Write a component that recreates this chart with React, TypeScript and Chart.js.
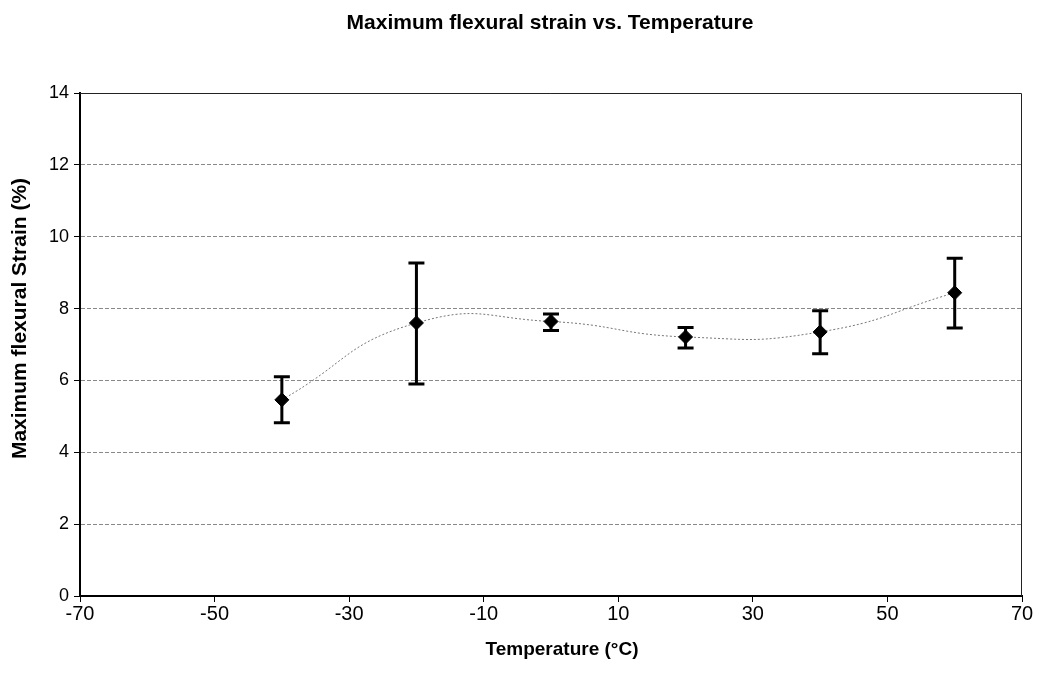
import React, { useEffect, useRef } from "react";
import { Chart, registerables } from "chart.js";

Chart.register(...registerables);

const temperatures = [-40, -20, 0, 20, 40, 60];
const strainMean = [5.46, 7.6, 7.64, 7.21, 7.35, 8.44];
const errUpper = [6.1, 9.27, 7.85, 7.47, 7.94, 9.4];
const errLower = [4.82, 5.9, 7.39, 6.9, 6.74, 7.46];
const xTickValues = [-70, -50, -30, -10, 10, 30, 50, 70];
const yTickValues = [0, 2, 4, 6, 8, 10, 12, 14];
const chartTitle = "Maximum flexural strain vs. Temperature";
const yAxisTitle = "Maximum flexural Strain (%)";
const xAxisTitle = "Temperature (°C)";

const FONT = "'Liberation Sans', Arial, sans-serif";

const errorBarPlugin = {
  id: "errorBars",
  afterDatasetsDraw(chart: any) {
    const { ctx, scales } = chart;
    const xs = scales.x;
    const ys = scales.y;
    ctx.save();
    ctx.strokeStyle = "#000";
    ctx.lineWidth = 3;
    ctx.lineCap = "butt";
    temperatures.forEach((t, i) => {
      const px = xs.getPixelForValue(t);
      const pTop = ys.getPixelForValue(errUpper[i]);
      const pBot = ys.getPixelForValue(errLower[i]);
      ctx.beginPath();
      ctx.moveTo(px, pTop);
      ctx.lineTo(px, pBot);
      ctx.moveTo(px - 8, pTop);
      ctx.lineTo(px + 8, pTop);
      ctx.moveTo(px - 8, pBot);
      ctx.lineTo(px + 8, pBot);
      ctx.stroke();
    });
    ctx.restore();
  },
};

const framePlugin = {
  id: "frame",
  beforeDatasetsDraw(chart: any) {
    const { ctx, chartArea } = chart;
    ctx.save();
    ctx.strokeStyle = "#222";
    ctx.lineWidth = 1;
    ctx.beginPath();
    ctx.moveTo(chartArea.left, chartArea.top + 0.5);
    ctx.lineTo(chartArea.right - 0.5, chartArea.top + 0.5);
    ctx.lineTo(chartArea.right - 0.5, chartArea.bottom);
    ctx.stroke();
    ctx.restore();
  },
  afterDraw(chart: any) {
    const { ctx, chartArea } = chart;
    const midX = (chartArea.left + chartArea.right) / 2;
    const midY = (chartArea.top + chartArea.bottom) / 2;
    ctx.save();
    ctx.fillStyle = "#000";
    ctx.textAlign = "center";
    ctx.textBaseline = "middle";
    ctx.font = `bold 21px ${FONT}`;
    ctx.fillText(chartTitle, midX - 1, 23);
    ctx.font = `bold 19px ${FONT}`;
    ctx.fillText(xAxisTitle, midX + 11, 650);
    ctx.font = `bold 21px ${FONT}`;
    ctx.translate(20, midY - 26);
    ctx.rotate(-Math.PI / 2);
    ctx.fillText(yAxisTitle, 0, 0);
    ctx.restore();
  },
};

export default function App() {
  const ref = useRef<HTMLCanvasElement>(null);
  useEffect(() => {
    const canvas = ref.current!;
    const chart = new Chart(canvas, {
      type: "scatter",
      data: {
        datasets: [
          {
            data: temperatures.map((t, i) => ({ x: t, y: strainMean[i] })),
            showLine: true,
            tension: 0.5,
            borderColor: "#777",
            borderWidth: 1,
            borderDash: [2, 2],
            pointStyle: "rectRot",
            pointRadius: 7,
            pointBackgroundColor: "#000",
            pointBorderColor: "#000",
            pointBorderWidth: 1,
          },
        ],
      },
      options: {
        responsive: false,
        animation: false,
        layout: { padding: { left: 0, right: 16, top: 93, bottom: 0 } },
        plugins: {
          legend: { display: false },
          tooltip: { enabled: false },
          title: { display: false },
        },
        scales: {
          x: {
            type: "linear",
            min: -70,
            max: 70,
            afterBuildTicks: (s: any) => {
              s.ticks = xTickValues.map((v) => ({ value: v }));
            },
            afterFit: (s: any) => {
              s.height = 88;
            },
            grid: {
              display: true,
              drawOnChartArea: false,
              drawTicks: true,
              tickLength: 6,
              color: "#000",
            },
            border: { display: true, color: "#000", width: 2 },
            ticks: {
              color: "#000",
              padding: 0,
              maxRotation: 0,
              font: { family: FONT, size: 20 },
            },
            title: { display: false },
          },
          y: {
            type: "linear",
            min: 0,
            max: 14,
            afterBuildTicks: (s: any) => {
              s.ticks = yTickValues.map((v) => ({ value: v }));
            },
            afterFit: (s: any) => {
              s.width = 80;
            },
            grid: {
              display: true,
              color: "#888",
              lineWidth: 1,
              tickLength: 6,
              tickColor: "#000",
              tickBorderDash: [],
            },
            border: { display: true, color: "#000", width: 2, dash: [4, 2] },
            ticks: {
              color: "#000",
              padding: 5,
              font: { family: FONT, size: 18 },
            },
            title: { display: false },
          },
        },
      } as any,
      plugins: [errorBarPlugin, framePlugin],
    });
    return () => chart.destroy();
  }, []);
  return (
    <div style={{ position: "absolute", left: 0, top: 0, width: 1038, height: 684, background: "#fff" }}>
      <canvas ref={ref} width={1038} height={684} />
    </div>
  );
}
